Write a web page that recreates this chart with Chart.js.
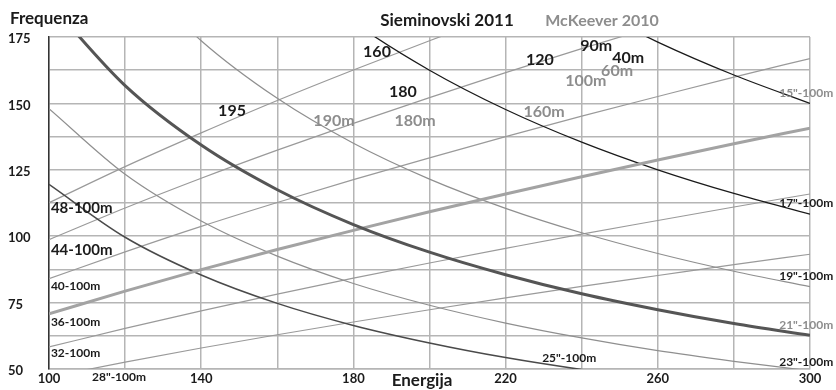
<!DOCTYPE html>
<html>
<head>
<meta charset="utf-8">
<script src="https://cdn.jsdelivr.net/npm/chart.js@4.4.1/dist/chart.umd.min.js"></script>
<style>
  html, body { margin: 0; padding: 0; background: #fff; }
  #box { width: 836px; height: 390px; }
</style>
</head>
<body>
<div id="box"><canvas id="canvas"></canvas></div>
<script>
const energia = [100, 120, 140, 160, 180, 200, 220, 240, 260, 280, 300];

// rette crescenti (etichette a sinistra)
const linea48 = [112.6, 126.2, 138.9, 151.1, 162.6, 173.6, 184.3, null, null, null, null];
const linea44 = [98.7, 110.6, 121.8, 132.4, 142.5, 152.2, 161.6, 170.6, 179.3, null, null];
const linea40 = [84.0, 94.1, 103.7, 112.7, 121.3, 129.5, 137.5, 145.2, 152.6, 159.9, 166.9];
const linea36 = [70.8, 79.3, 87.4, 95.0, 102.2, 109.2, 115.9, 122.4, 128.7, 134.8, 140.7];
const linea32 = [58.3, 65.3, 71.9, 78.2, 84.2, 89.9, 95.4, 100.8, 105.9, 111.0, 115.9];
const linea28 = [46.9, 52.6, 57.9, 62.9, 67.7, 72.3, 76.8, 81.1, 85.2, 89.3, 93.2];

// curve decrescenti (etichette a destra)
const curva15 = [null, null, null, null, null, null, null, 187.5, 173.1, 160.7, 150.0];
const curva17 = [null, null, null, 203.1, 180.6, 162.5, 147.7, 135.4, 125.0, 116.1, 108.3];
const curva19 = [null, 202.5, 173.6, 151.9, 135.0, 121.5, 110.5, 101.3, 93.5, 86.8, 81.0];
const curva21 = [188.0, 156.7, 134.3, 117.5, 104.4, 94.0, 85.5, 78.3, 72.3, 67.1, 62.7];
const curva23 = [148.0, 123.3, 105.7, 92.5, 82.2, 74.0, 67.3, 61.7, 56.9, 52.9, 49.3];
const curva25 = [119.5, 99.6, 85.4, 74.7, 66.4, 59.8, 54.3, 49.8, 46.0, null, null];

const NERO = '#1b1b1b';
const GRIGIO = '#8d8d8d';

const etichette = [
  { t: '195', x: 148.1, y: 147.1, c: NERO, s: 16 },
  { t: '160', x: 186.2, y: 169.3, c: NERO, s: 16 },
  { t: '180', x: 193.0, y: 154.2, c: NERO, s: 16 },
  { t: '120', x: 229.0, y: 166.3, c: NERO, s: 16 },
  { t: '90m', x: 243.8, y: 171.6, c: NERO, s: 16 },
  { t: '40m', x: 252.2, y: 167.1, c: NERO, s: 16 },
  { t: '60m', x: 249.3, y: 162.2, c: GRIGIO, s: 16 },
  { t: '100m', x: 241.1, y: 158.4, c: GRIGIO, s: 16 },
  { t: '160m', x: 230.1, y: 146.7, c: GRIGIO, s: 16 },
  { t: '190m', x: 174.9, y: 143.3, c: GRIGIO, s: 16 },
  { t: '180m', x: 196.2, y: 143.3, c: GRIGIO, s: 16 },
  { t: '48-100m', x: 100.5, y: 110.4, c: NERO, s: 15, al: 'left' },
  { t: '44-100m', x: 100.5, y: 94.9, c: NERO, s: 15, al: 'left' },
  { t: '40-100m', x: 100.5, y: 81.3, c: NERO, s: 12, al: 'left' },
  { t: '36-100m', x: 100.5, y: 67.7, c: NERO, s: 12, al: 'left' },
  { t: '32-100m', x: 100.5, y: 56.0, c: NERO, s: 12, al: 'left' },
  { t: '28"-100m', x: 118.4, y: 47.0, c: NERO, s: 12 },
  { t: '15"-100m', x: 291.9, y: 153.9, c: GRIGIO, s: 12, al: 'left' },
  { t: '17"-100m', x: 291.9, y: 112.3, c: NERO, s: 12, al: 'left' },
  { t: '19"-100m', x: 291.9, y: 85.1, c: NERO, s: 12, al: 'left' },
  { t: '21"-100m', x: 291.9, y: 66.6, c: GRIGIO, s: 12, al: 'left' },
  { t: '23"-100m', x: 291.9, y: 52.6, c: NERO, s: 12, al: 'left' },
  { t: '25"-100m', x: 229.6, y: 54.2, c: NERO, s: 12, al: 'left' }
];

function serie(dati, colore, spessore) {
  return {
    data: dati,
    borderColor: colore,
    borderWidth: spessore,
    pointRadius: 0,
    cubicInterpolationMode: 'monotone',
    fill: false
  };
}

const testi = {
  id: 'testi',
  afterDatasetsDraw(chart) {
    const ctx = chart.ctx;
    const sx = chart.scales.x, sy = chart.scales.y;
    ctx.save();
    ctx.textBaseline = 'middle';
    etichette.forEach(function (e) {
      ctx.font = 'bold ' + e.s + 'px Lato';
      ctx.fillStyle = e.c;
      ctx.textAlign = e.al || 'center';
      ctx.fillText(e.t, sx.getPixelForValue(e.x), sy.getPixelForValue(e.y));
    });
    ctx.font = 'bold 17px Lato';
    ctx.fillStyle = NERO;
    ctx.textAlign = 'left';
    ctx.fillText('Frequenza', 10, 19);
    ctx.textAlign = 'center';
    ctx.fillText('Sieminovski 2011', 447, 21);
    ctx.fillText('Energija', 422, 381);
    ctx.font = 'bold 16px Lato';
    ctx.fillStyle = GRIGIO;
    ctx.fillText('McKeever 2010', 602, 21);
    ctx.restore();
  }
};

Chart.defaults.font.family = 'Lato';

const ctx = document.getElementById('canvas').getContext('2d');
new Chart(ctx, {
  type: 'line',
  data: {
    labels: energia,
    datasets: [
      serie(curva21, '#555555', 3),
      serie(linea36, '#a3a3a3', 3),
      serie(curva15, '#1a1a1a', 1.3),
      serie(curva17, '#1a1a1a', 1.3),
      serie(curva25, '#4a4a4a', 1.5),
      serie(curva19, '#8f8f8f', 1.2),
      serie(curva23, '#8f8f8f', 1.2),
      serie(linea48, '#9a9a9a', 1.2),
      serie(linea44, '#9a9a9a', 1.2),
      serie(linea40, '#9a9a9a', 1.2),
      serie(linea32, '#9a9a9a', 1.2),
      serie(linea28, '#9a9a9a', 1.2)
    ]
  },
  options: {
    responsive: true,
    maintainAspectRatio: false,
    animation: false,
    layout: { padding: { left: 8, right: 26, top: 37, bottom: 0 } },
    plugins: { legend: { display: false }, tooltip: { enabled: false } },
    scales: {
      x: {
        type: 'linear',
        min: 100,
        max: 300,
        grid: { color: '#b5b5b5', lineWidth: 1.5, drawTicks: false },
        border: { color: '#b5b5b5', width: 1.5 },
        ticks: {
          stepSize: 20,
          autoSkip: false,
          maxRotation: 0,
          padding: 2,
          color: NERO,
          font: { size: 13, weight: 'bold' },
          callback: function (v) { return (v - 100) % 40 === 0 ? v : ''; }
        },
        afterFit: function (s) { s.height = 21; }
      },
      y: {
        min: 50,
        max: 175,
        grid: { color: '#b5b5b5', lineWidth: 1.5, drawTicks: false },
        border: { color: '#333333', width: 1.5 },
        ticks: {
          stepSize: 12.5,
          autoSkip: false,
          crossAlign: 'far',
          labelOffset: 2,
          color: NERO,
          font: { size: 13, weight: 'bold' },
          callback: function (v) { return (v - 50) % 25 === 0 ? v : ''; }
        },
        afterFit: function (s) { s.width = 41; }
      }
    }
  },
  plugins: [testi]
});
</script>
</body>
</html>
